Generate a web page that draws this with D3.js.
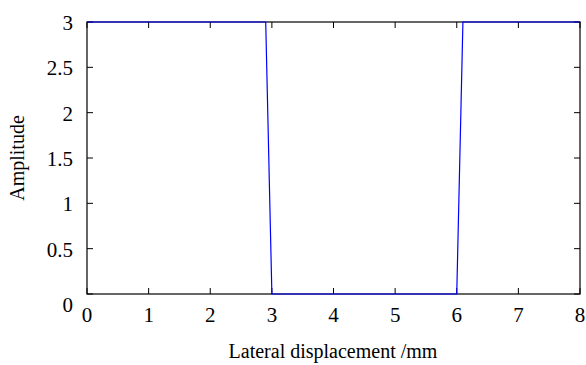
<!DOCTYPE html>
<html>
<head>
<meta charset="utf-8">
<script src="https://cdn.jsdelivr.net/npm/d3@7"></script>
<style>
  body { margin: 0; background: #fff; }
</style>
</head>
<body>
<div id="chart"></div>
<script>
// square-wave profile
const xs = [0, 2.9, 3.0, 6.0, 6.1, 8];
const ys = [3, 3, 0, 0, 3, 3];
const xTicks = [0, 1, 2, 3, 4, 5, 6, 7, 8];
const yTicks = [0, 0.5, 1, 1.5, 2, 2.5, 3];

const width = 586, height = 365;
const margin = { left: 87, right: 6, top: 22, bottom: 71 };
const font = "'Liberation Serif', 'Times New Roman', Times, serif";

const svg = d3.select("#chart").append("svg")
  .attr("width", width)
  .attr("height", height)
  .attr("font-family", font);

const x = d3.scaleLinear().domain([0, 8]).range([margin.left, width - margin.right]);
const y = d3.scaleLinear().domain([0, 3]).range([height - margin.bottom, margin.top]);

const tickLen = 6;

// frame
svg.append("rect")
  .attr("x", x(0)).attr("y", y(3))
  .attr("width", x(8) - x(0)).attr("height", y(0) - y(3))
  .attr("fill", "none").attr("stroke", "#000").attr("stroke-width", 1.2);

// inward ticks, mirrored on all sides
const ticks = svg.append("g").attr("stroke", "#000").attr("stroke-width", 1);
xTicks.forEach(t => {
  ticks.append("line").attr("x1", x(t)).attr("x2", x(t)).attr("y1", y(0)).attr("y2", y(0) - tickLen);
  ticks.append("line").attr("x1", x(t)).attr("x2", x(t)).attr("y1", y(3)).attr("y2", y(3) + tickLen);
});
yTicks.forEach(t => {
  ticks.append("line").attr("x1", x(0)).attr("x2", x(0) + tickLen).attr("y1", y(t)).attr("y2", y(t));
  ticks.append("line").attr("x1", x(8)).attr("x2", x(8) - tickLen).attr("y1", y(t)).attr("y2", y(t));
});

// tick labels
svg.append("g").selectAll("text")
  .data(xTicks).join("text")
  .attr("x", d => x(d))
  .attr("y", y(0) + 28)
  .attr("text-anchor", "middle")
  .attr("font-size", 21)
  .text(d => d);

svg.append("g").selectAll("text")
  .data(yTicks).join("text")
  .attr("x", x(0) - 14)
  .attr("y", d => y(d) + (d === 0 ? 18 : 8))
  .attr("text-anchor", "end")
  .attr("font-size", 21)
  .text(d => d);

// axis titles
svg.append("text")
  .attr("x", 333)
  .attr("y", 358)
  .attr("text-anchor", "middle")
  .attr("font-size", 20)
  .text("Lateral displacement /mm");

svg.append("text")
  .attr("transform", `translate(24, ${(y(0) + y(3)) / 2}) rotate(-90)`)
  .attr("text-anchor", "middle")
  .attr("font-size", 20)
  .text("Amplitude");

// data line
const line = d3.line().x((d, i) => x(xs[i])).y((d, i) => y(ys[i]));
svg.append("path")
  .datum(xs)
  .attr("d", line)
  .attr("fill", "none")
  .attr("stroke", "#0000ff")
  .attr("stroke-width", 1.2);
</script>
</body>
</html>
